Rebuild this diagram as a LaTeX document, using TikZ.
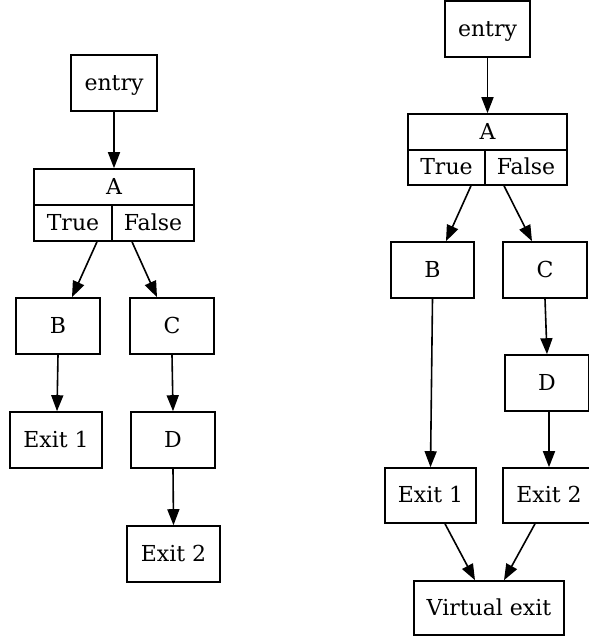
\documentclass[tikz,border=0pt]{standalone}
\usepackage{fontspec}
\setmainfont{DejaVu Serif}
\usetikzlibrary{arrows.meta}
\begin{document}
\begin{tikzpicture}[x=1pt,y=-1pt,
  every node/.style={font=\fontsize{22}{26}\selectfont, text height=16.5pt, text depth=2pt, inner sep=0pt},
  box/.style={draw, line width=1.6pt, minimum height=56pt},
  cell/.style={draw, line width=1.6pt, minimum height=36pt},
  edge/.style={line width=1.6pt, -{Triangle[length=16pt,width=12pt]}}]
\clip (0,0) rectangle (589,638);

% ---- left graph ----
\node[box, minimum width=86pt] (Lentry) at (114,83) {entry};
\node[cell, minimum width=160pt] (LAtop) at (114,187) {A};
\node[cell, minimum width=78pt] (LAtrue) at (73,223) {True};
\node[cell, minimum width=82pt] (LAfalse) at (153,223) {False};
\node[box, minimum width=84pt] (LB) at (58,326) {B};
\node[box, minimum width=84pt] (LC) at (172,326) {C};
\node[box, minimum width=92pt] (LE1) at (56,440) {Exit 1};
\node[box, minimum width=84pt] (LD) at (173,440) {D};
\node[box, minimum width=93pt] (LE2) at (173.5,554) {Exit 2};

\draw[edge] (Lentry.south) -- (LAtop.north);
\draw[edge] ([xshift=24pt]LAtrue.south) -- ([xshift=14pt]LB.north);
\draw[edge] ([xshift=-21pt]LAfalse.south) -- ([xshift=-15pt]LC.north);
\draw[edge] (LB.south) -- ([xshift=1pt]LE1.north);
\draw[edge] (LC.south) -- (LD.north);
\draw[edge] (LD.south) -- (LE2.north);

% ---- right graph ----
\node[box, minimum width=85pt] (Rentry) at (487.5,29) {entry};
\node[cell, minimum width=159pt] (RAtop) at (487.5,132) {A};
\node[cell, minimum width=77pt, minimum height=35pt] (RAtrue) at (446.5,167.5) {True};
\node[cell, minimum width=82pt, minimum height=35pt] (RAfalse) at (526,167.5) {False};
\node[box, minimum width=83pt] (RB) at (432.5,270) {B};
\node[box, minimum width=84pt] (RC) at (545,270) {C};
\node[box, minimum width=84pt] (RD) at (547,383) {D};
\node[box, minimum width=91pt, minimum height=55pt] (RE1) at (430.5,495.5) {Exit 1};
\node[box, minimum width=92pt, minimum height=55pt] (RE2) at (549,495.5) {Exit 2};
\node[box, minimum width=150pt, minimum height=54pt] (RV) at (489,608) {Virtual exit};

\draw[edge] (Rentry.south) -- (RAtop.north);
\draw[edge] ([xshift=24.5pt]RAtrue.south) -- ([xshift=13.5pt]RB.north);
\draw[edge] ([xshift=-22pt]RAfalse.south) -- ([xshift=-13pt]RC.north);
\draw[edge] (RB.south) -- (RE1.north);
\draw[edge] (RC.south) -- (RD.north);
\draw[edge] ([xshift=2pt]RD.south) -- (RE2.north);
\draw[edge] ([xshift=14.5pt]RE1.south) -- ([xshift=-14pt]RV.north);
\draw[edge] ([xshift=-14pt]RE2.south) -- ([xshift=15pt]RV.north);
\end{tikzpicture}
\end{document}
